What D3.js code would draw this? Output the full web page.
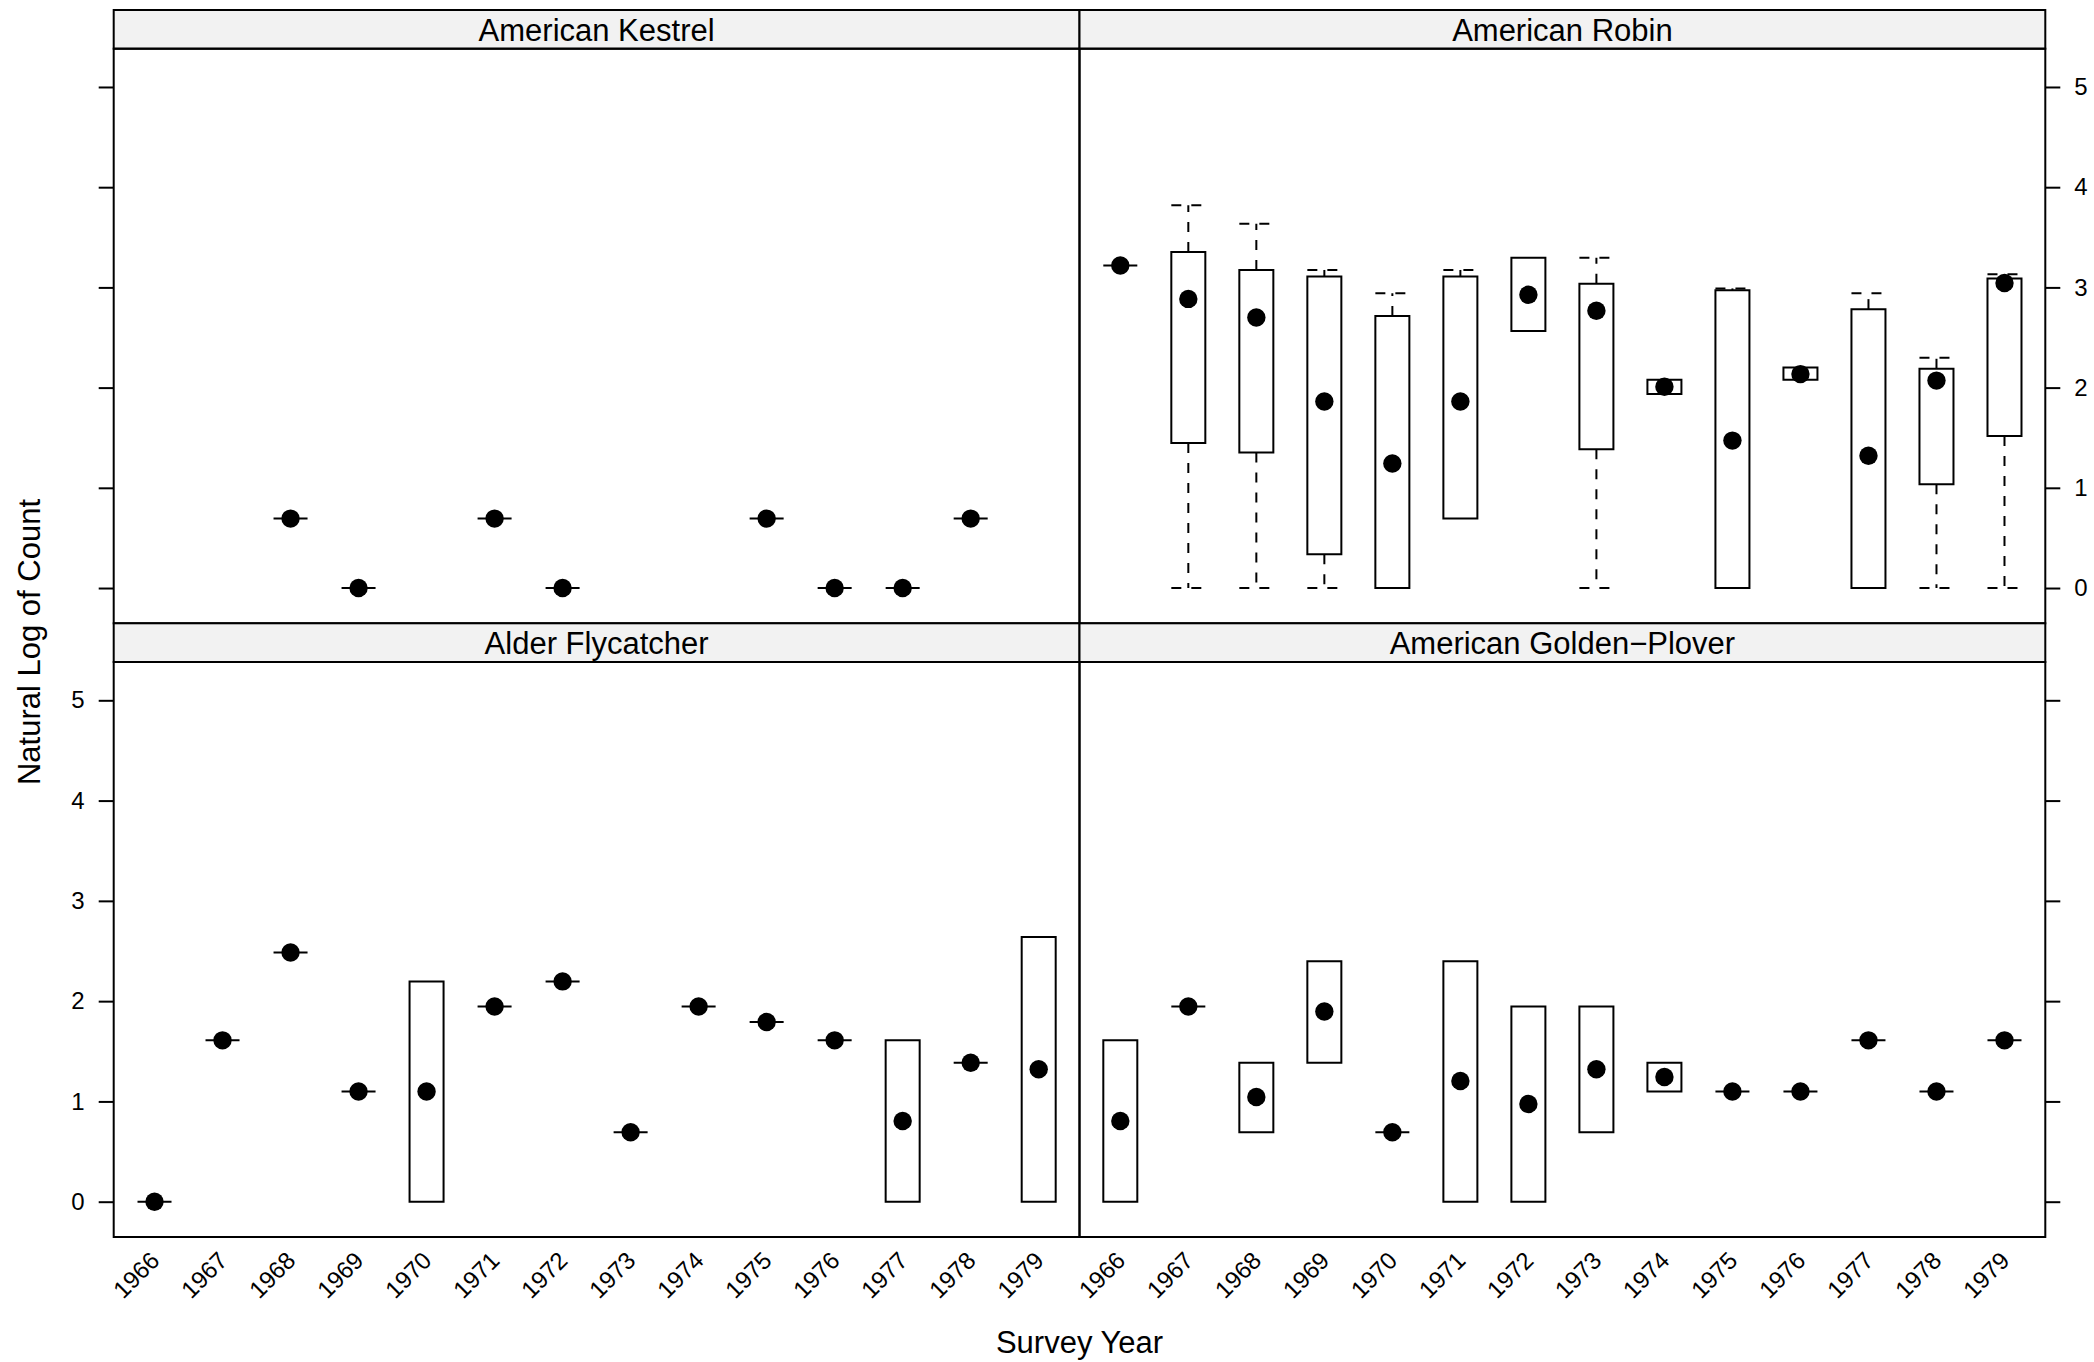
<!DOCTYPE html>
<html>
<head>
<meta charset="utf-8">
<script src="https://cdn.jsdelivr.net/npm/d3@7"></script>
<style>
  body { margin: 0; background: #fff; }
  svg { display: block; }
  text { font-family: "Liberation Sans", Arial, Helvetica, sans-serif; fill: #000; }
</style>
</head>
<body>
<svg id="chart" width="2094" height="1362"></svg>
<script>
// ---------------- data ----------------
const years = ["1966","1967","1968","1969","1970","1971","1972","1973","1974","1975","1976","1977","1978","1979"];
const panelTitles = ["American Kestrel", "American Robin", "Alder Flycatcher", "American Golden\u2212Plover"];
const yTicks = [0, 1, 2, 3, 4, 5];
const yLimits = [-0.352, 5.382];
const xAxisTitle = "Survey Year";
const yAxisTitle = "Natural Log of Count";

// each entry: [lower whisker, lower hinge, median, upper hinge, upper whisker]; null = no data
const kestrelStats = [
  null, null,
  [0.693, 0.693, 0.693, 0.693, 0.693],
  [0, 0, 0, 0, 0],
  null,
  [0.693, 0.693, 0.693, 0.693, 0.693],
  [0, 0, 0, 0, 0],
  null, null,
  [0.693, 0.693, 0.693, 0.693, 0.693],
  [0, 0, 0, 0, 0],
  [0, 0, 0, 0, 0],
  [0.693, 0.693, 0.693, 0.693, 0.693],
  null
];
const robinStats = [
  [3.219, 3.219, 3.219, 3.219, 3.219],
  [0, 1.447, 2.885, 3.354, 3.820],
  [0, 1.353, 2.700, 3.174, 3.635],
  [0, 0.338, 1.862, 3.109, 3.174],
  [0, 0, 1.243, 2.714, 2.942],
  [0.693, 0.693, 1.862, 3.109, 3.174],
  [2.565, 2.565, 2.926, 3.296, 3.296],
  [0, 1.386, 2.767, 3.036, 3.296],
  [1.936, 1.936, 2.009, 2.078, 2.078],
  [0, 0, 1.471, 2.971, 2.990],
  [2.078, 2.078, 2.135, 2.200, 2.200],
  [0, 0, 1.320, 2.783, 2.942],
  [0, 1.035, 2.070, 2.188, 2.298],
  [0, 1.516, 3.044, 3.089, 3.130]
];
const alderStats = [
  [0, 0, 0, 0, 0],
  [1.609, 1.609, 1.609, 1.609, 1.609],
  [2.485, 2.485, 2.485, 2.485, 2.485],
  [1.099, 1.099, 1.099, 1.099, 1.099],
  [0, 0, 1.099, 2.197, 2.197],
  [1.946, 1.946, 1.946, 1.946, 1.946],
  [2.197, 2.197, 2.197, 2.197, 2.197],
  [0.693, 0.693, 0.693, 0.693, 0.693],
  [1.946, 1.946, 1.946, 1.946, 1.946],
  [1.792, 1.792, 1.792, 1.792, 1.792],
  [1.609, 1.609, 1.609, 1.609, 1.609],
  [0, 0, 0.805, 1.609, 1.609],
  [1.386, 1.386, 1.386, 1.386, 1.386],
  [0, 0, 1.321, 2.639, 2.639]
];
const ploverStats = [
  [0, 0, 0.805, 1.609, 1.609],
  [1.946, 1.946, 1.946, 1.946, 1.946],
  [0.693, 0.693, 1.044, 1.386, 1.386],
  [1.386, 1.386, 1.896, 2.398, 2.398],
  [0.693, 0.693, 0.693, 0.693, 0.693],
  [0, 0, 1.203, 2.398, 2.398],
  [0, 0, 0.975, 1.946, 1.946],
  [0.693, 0.693, 1.321, 1.946, 1.946],
  [1.099, 1.099, 1.244, 1.386, 1.386],
  [1.099, 1.099, 1.099, 1.099, 1.099],
  [1.099, 1.099, 1.099, 1.099, 1.099],
  [1.609, 1.609, 1.609, 1.609, 1.609],
  [1.099, 1.099, 1.099, 1.099, 1.099],
  [1.609, 1.609, 1.609, 1.609, 1.609]
];

// ---------------- layout ----------------
const svg = d3.select("#chart");
const colEdges = [113.7, 1079.5, 2045.3];
const rows = [
  { stripTop: 10, top: 48.7, bottom: 623.3 },
  { stripTop: 623.3, top: 662, bottom: 1237 }
];
const panels = [
  { title: panelTitles[0], stats: kestrelStats, col: 0, row: 0, side: "left",  labels: false, xAxis: false },
  { title: panelTitles[1], stats: robinStats,   col: 1, row: 0, side: "right", labels: true,  xAxis: false },
  { title: panelTitles[2], stats: alderStats,   col: 0, row: 1, side: "left",  labels: true,  xAxis: true },
  { title: panelTitles[3], stats: ploverStats,  col: 1, row: 1, side: "right", labels: false, xAxis: true }
];
const LW = 2;

panels.forEach(p => {
  const r = rows[p.row];
  const x0 = colEdges[p.col], x1 = colEdges[p.col + 1];
  const x = d3.scalePoint().domain(years).range([x0, x1]).padding(0.6);
  const y = d3.scaleLinear().domain(yLimits).range([r.bottom, r.top]);
  const g = svg.append("g");

  // strip
  g.append("rect")
    .attr("x", x0).attr("y", r.stripTop)
    .attr("width", x1 - x0).attr("height", r.top - r.stripTop)
    .attr("fill", "#f2f2f2").attr("stroke", "#000").attr("stroke-width", LW);
  g.append("text")
    .attr("x", (x0 + x1) / 2).attr("y", (r.stripTop + r.top) / 2)
    .attr("dy", "0.36em")
    .attr("text-anchor", "middle")
    .attr("font-size", 31)
    .text(p.title);

  const bw = x.step() * 0.5;
  const data = years.map((yr, i) => ({ yr, s: p.stats[i] })).filter(d => d.s);

  const marks = g.append("g");
  data.forEach(d => {
    const cx = x(d.yr);
    const [lo, q1, med, q3, hi] = d.s;
    // whiskers (dashed)
    if (hi > q3) {
      marks.append("line").attr("x1", cx).attr("x2", cx).attr("y1", y(q3)).attr("y2", y(hi))
        .attr("stroke", "#000").attr("stroke-width", LW).attr("stroke-dasharray", "10,10");
      marks.append("line").attr("x1", cx - bw / 2).attr("x2", cx + bw / 2).attr("y1", y(hi)).attr("y2", y(hi))
        .attr("stroke", "#000").attr("stroke-width", LW).attr("stroke-dasharray", "10,10");
    }
    if (lo < q1) {
      marks.append("line").attr("x1", cx).attr("x2", cx).attr("y1", y(q1)).attr("y2", y(lo))
        .attr("stroke", "#000").attr("stroke-width", LW).attr("stroke-dasharray", "10,10");
      marks.append("line").attr("x1", cx - bw / 2).attr("x2", cx + bw / 2).attr("y1", y(lo)).attr("y2", y(lo))
        .attr("stroke", "#000").attr("stroke-width", LW).attr("stroke-dasharray", "10,10");
    }
    // box (may be degenerate: a horizontal line)
    const bx0 = cx - bw / 2, bx1 = cx + bw / 2;
    marks.append("path")
      .attr("d", `M${bx0},${y(q3)}H${bx1}V${y(q1)}H${bx0}Z`)
      .attr("fill", "none").attr("stroke", "#000").attr("stroke-width", LW);
    // median dot
    marks.append("circle").attr("cx", cx).attr("cy", y(med)).attr("r", 9.2).attr("fill", "#000");
  });

  // panel border
  g.append("rect")
    .attr("x", x0).attr("y", r.top)
    .attr("width", x1 - x0).attr("height", r.bottom - r.top)
    .attr("fill", "none").attr("stroke", "#000").attr("stroke-width", LW);

  // y axis
  const yAxis = (p.side === "left" ? d3.axisLeft(y) : d3.axisRight(y))
    .tickValues(yTicks).tickSize(15).tickPadding(14)
    .tickFormat(p.labels ? d3.format("d") : () => "");
  const ya = g.append("g")
    .attr("transform", `translate(${p.side === "left" ? x0 : x1},0)`)
    .call(yAxis);
  ya.select(".domain").remove();
  ya.selectAll(".tick line").attr("stroke", "#000").attr("stroke-width", LW);
  ya.selectAll(".tick text").attr("font-size", 24).attr("font-family", null).attr("fill", "#000");
  ya.attr("font-family", null);

  // x axis
  if (p.xAxis) {
    const xa = g.append("g")
      .attr("transform", `translate(0,${r.bottom})`)
      .call(d3.axisBottom(x).tickSize(0).tickPadding(0));
    xa.select(".domain").remove();
    xa.attr("font-family", null);
    xa.selectAll(".tick text")
      .attr("y", null).attr("dy", "0.35em")
      .attr("font-size", 24).attr("fill", "#000")
      .attr("text-anchor", "end")
      .attr("transform", "translate(0,19) rotate(-45)");
  }
});

// axis titles
svg.append("text")
  .attr("x", (colEdges[0] + colEdges[2]) / 2).attr("y", 1353)
  .attr("text-anchor", "middle").attr("font-size", 31)
  .text(xAxisTitle);
svg.append("text")
  .attr("transform", "translate(40,642) rotate(-90)")
  .attr("text-anchor", "middle").attr("font-size", 31)
  .text(yAxisTitle);
</script>
</body>
</html>
